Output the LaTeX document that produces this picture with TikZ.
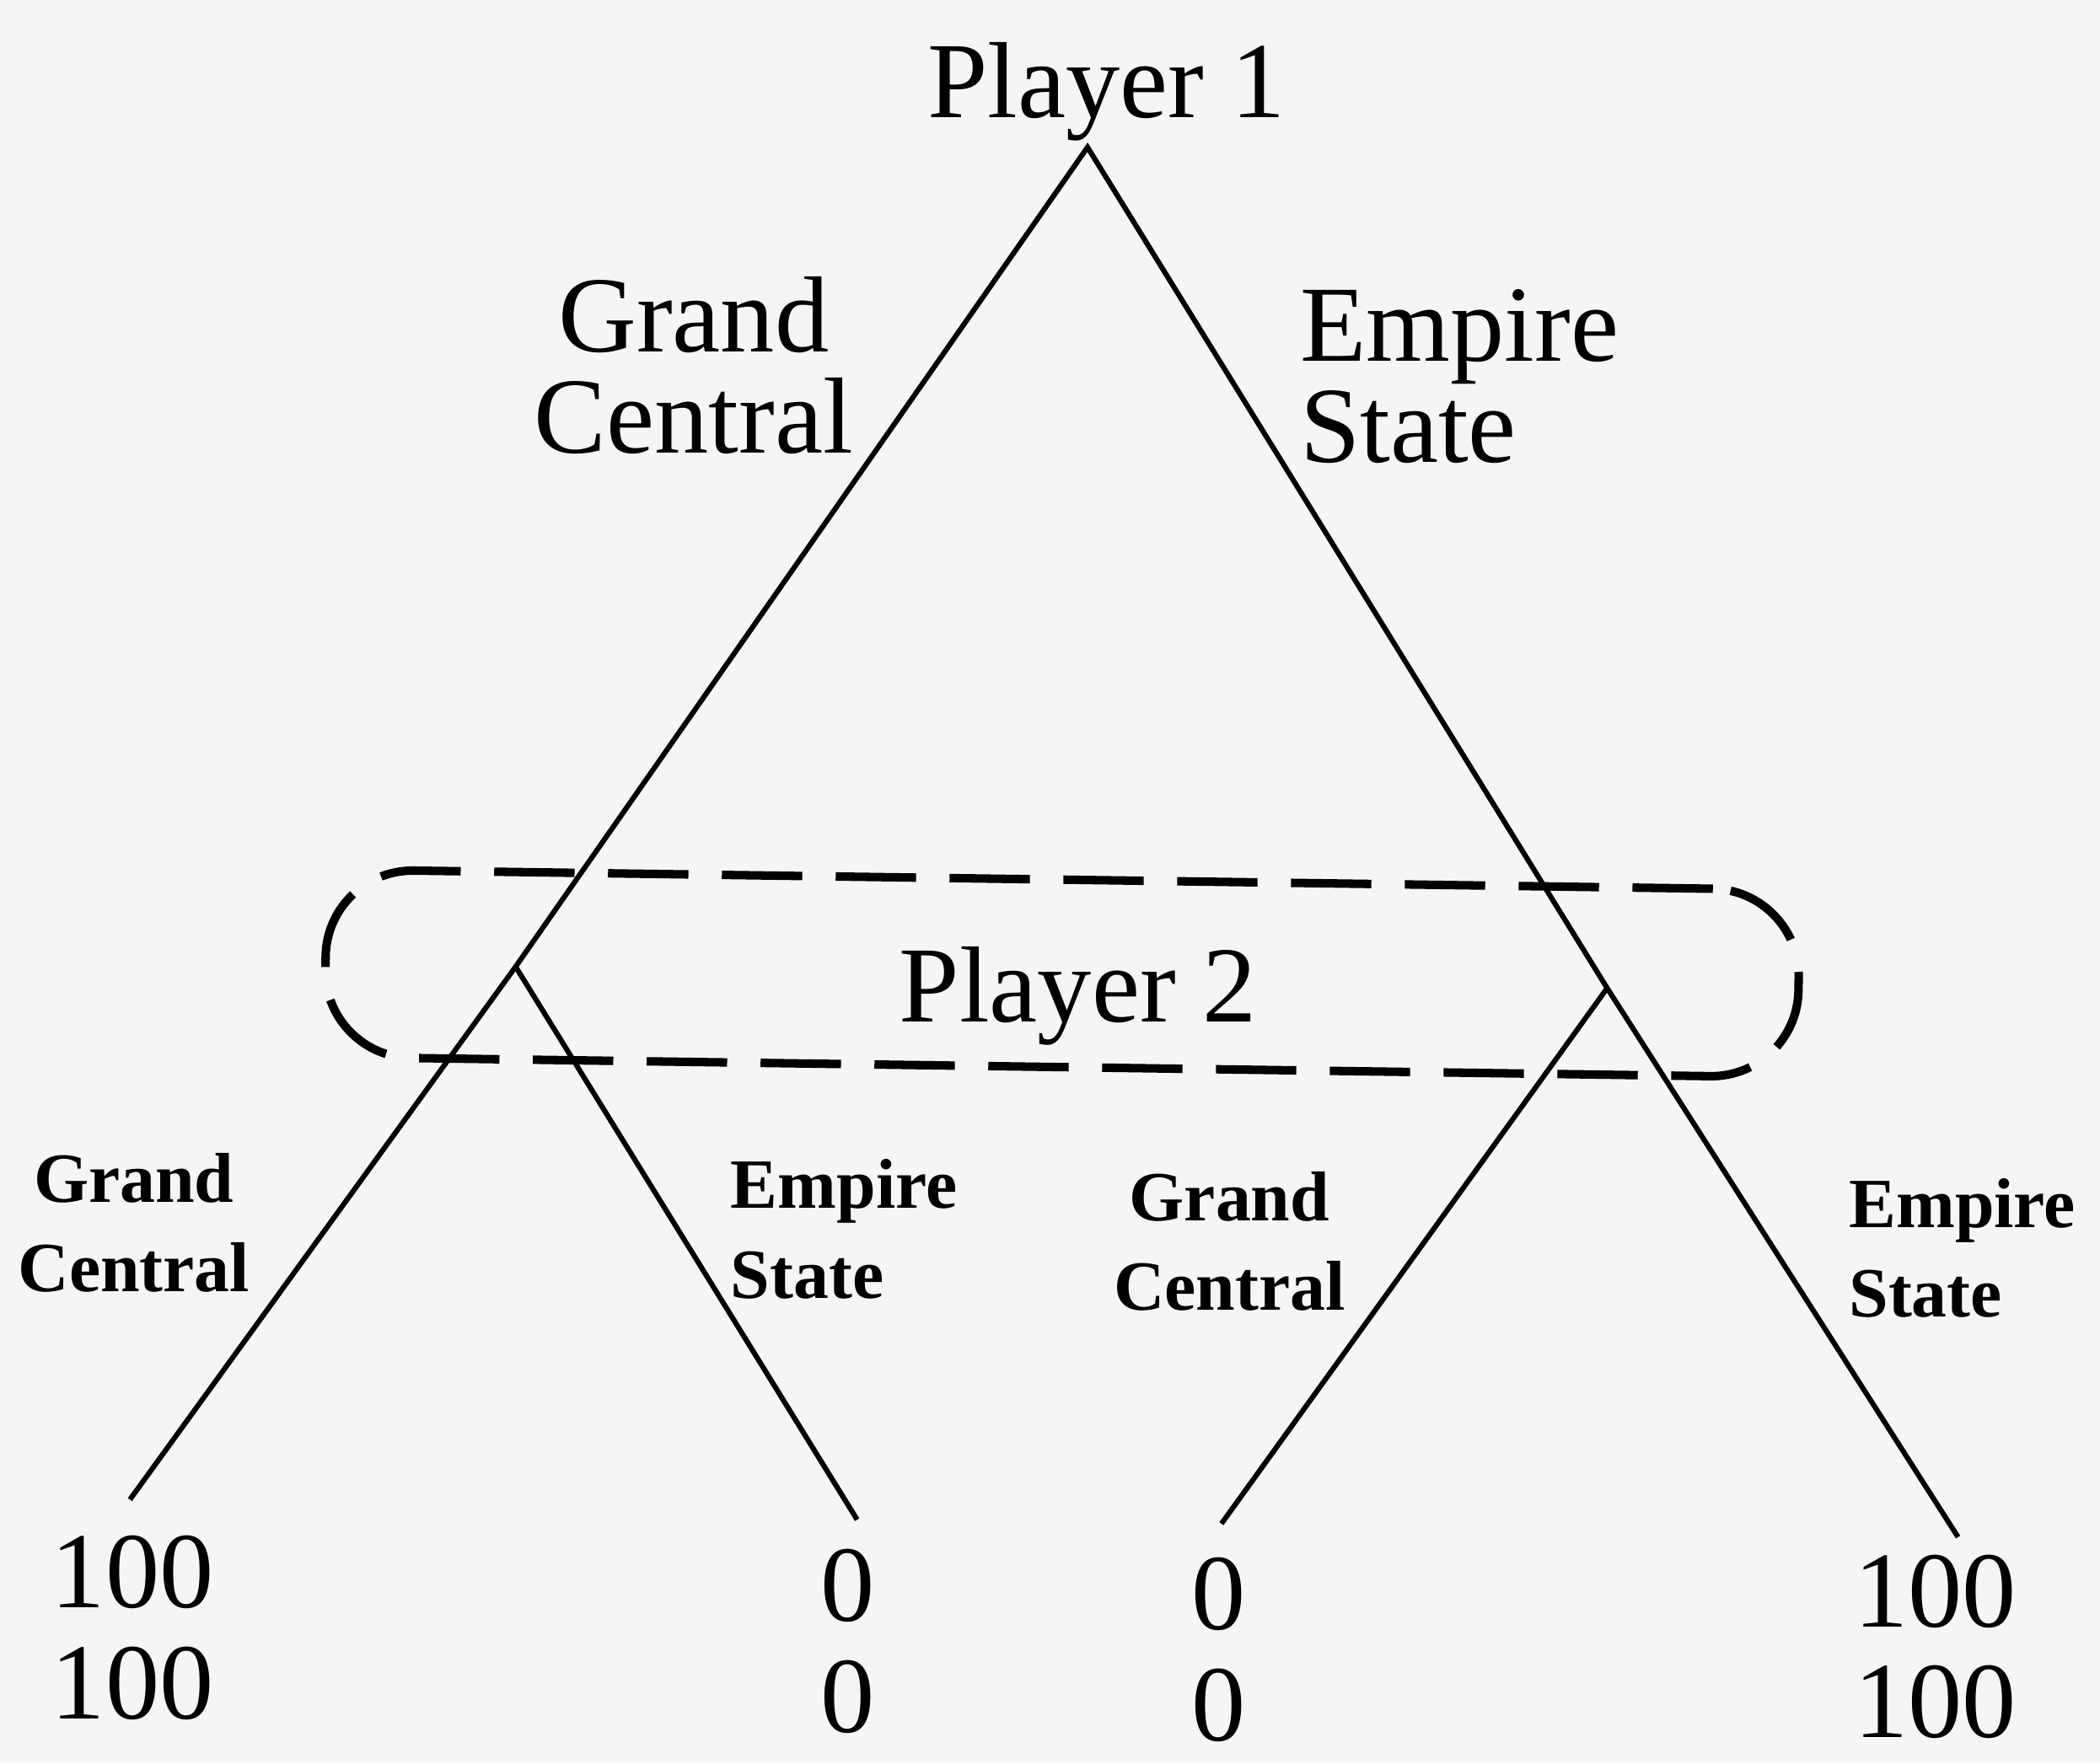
\documentclass[tikz,border=0pt]{standalone}
\usepackage{fontspec}
\setmainfont{Liberation Serif}
\usepackage{tikz}
\usetikzlibrary{positioning,calc}
\usepackage{xcolor}
\definecolor{paper}{RGB}{245,245,245}

\begin{document}
\begin{tikzpicture}[
    branch/.style={line width=1.1pt},
    infoset/.style={draw,line width=1.8pt,dash pattern=on 0.6cm off 0.25cm,rounded corners=0.65cm,minimum width=11cm,minimum height=1.4cm},
    bigtxt/.style={font=\fontsize{23}{21.5}\selectfont,inner sep=0pt},
    smalltxt/.style={font=\bfseries\fontsize{15}{19}\selectfont,inner sep=0pt},
    payoff/.style={font=\fontsize{23}{23.6}\selectfont,align=center,inner sep=0pt}]
    \fill[paper] (0,0) rectangle (15.68,13.17);
    \useasboundingbox (0,0) rectangle (15.68,13.17);

    \coordinate (root) at (8.12,12.07);
    \coordinate (n1) at (3.85,5.95);
    \coordinate (n2) at (12.00,5.79);
    \coordinate (l1) at (0.97,1.97);
    \coordinate (l2) at (6.40,1.82);
    \coordinate (l3) at (9.12,1.79);
    \coordinate (l4) at (14.62,1.69);

    \draw[branch] (l1) -- (n1) -- (root) -- (n2) -- (l4);
    \draw[branch] (n1) -- (l2);
    \draw[branch] (n2) -- (l3);

    \node[infoset,rotate=-0.8] (info) at (7.93,5.90) {};
    \node[bigtxt,anchor=base] (p2) at (8.05,5.54) {Player 2};
    \node[bigtxt,anchor=base] (p1) at (8.26,12.29) {Player 1};

    \node[bigtxt,align=center] (gc) at (5.18,10.44) {Grand\\Central};
    \node[bigtxt,align=left,anchor=west] (es) at (9.70,10.36) {Empire\\State};

    \node[smalltxt,align=center] (gc1) at (1.00,4.04) {Grand\\Central};
    \node[smalltxt,align=left,anchor=west] (es1) at (5.45,3.99) {Empire\\State};
    \node[smalltxt,align=center] (gc2) at (9.18,3.90) {Grand\\Central};
    \node[smalltxt,align=left,anchor=west] (es2) at (13.80,3.85) {Empire\\State};

    \node[payoff] (u1) at (0.99,1.01) {100\\100};
    \node[payoff] (u2) at (6.33,0.91) {0\\0};
    \node[payoff] (u3) at (9.10,0.85) {0\\0};
    \node[payoff] (u4) at (14.45,0.87) {100\\100};
\end{tikzpicture}
\end{document}
